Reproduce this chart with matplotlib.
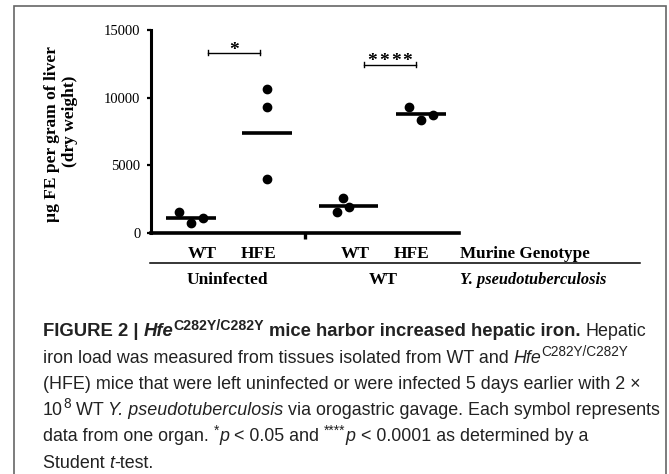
import matplotlib
matplotlib.use('Agg')
import matplotlib.pyplot as plt
from matplotlib.patches import Rectangle

# data (ug Fe per gram of liver)
groups = ['WT', 'HFE', 'WT', 'HFE']
group_pos = [1, 2, 3.07, 4.02]
wt_uninf = [1552, 717, 1086]
hfe_uninf = [10640, 9290, 4015]
wt_inf = [2610, 1552, 1946]
hfe_inf = [9290, 8380, 8750]
means = [1090, 7390, 1995, 8795]
jitter = [[-0.16, 0, 0.16], [0, 0, 0], [-0.07, -0.15, 0.01], [-0.16, 0, 0.16]]
yticks = [0, 5000, 10000, 15000]
infections = ['Uninfected', 'WT']
sig_labels = ['*', '****']

W, H = 669, 474
def fx(px):
  return px / W
def fy(py):
  return 1 - py / H

fig = plt.figure(figsize=(W / 100, H / 100), dpi=100)
fig.patches.append(Rectangle((fx(14), fy(478)), fx(666) - fx(14), fy(6) - fy(478),
                             transform=fig.transFigure, fill=False, ec='#666666', lw=1.2))

ax = fig.add_axes([fx(151), fy(233), (459 - 151) / W, (233 - 30) / H])
serif = 'Liberation Serif'

all_vals = [wt_uninf, hfe_uninf, wt_inf, hfe_inf]
halfw = [0.33, 0.33, 0.39, 0.33]
for i, vals in enumerate(all_vals):
  xs = [group_pos[i] + j for j in jitter[i]]
  ax.plot(xs, vals, 'o', color='black', ms=6, zorder=3)
  ax.plot([group_pos[i] - halfw[i], group_pos[i] + halfw[i]], [means[i], means[i]],
          color='black', lw=2.6, solid_capstyle='butt', zorder=3)

ax.set_xlim(0.47, 4.523)
ax.set_ylim(0, 15000)
ax.spines['top'].set_visible(False)
ax.spines['right'].set_visible(False)
ax.spines['left'].set_linewidth(2.2)
ax.spines['bottom'].set_linewidth(2.6)
ax.set_yticks(yticks)
ax.set_yticklabels([str(v) for v in yticks], fontfamily=serif, fontsize=10.5)
ax.tick_params(axis='y', direction='out', length=3, width=1.6, pad=4.5)
ax.set_xticks([2.5])
ax.set_xticklabels([''])
ax.tick_params(axis='x', direction='out', length=4, width=2.4)

# significance brackets
scale = 15000 / 203
brackets = [(1.216, 1.904, 13326, 1.56, 13175), (3.27, 3.957, 12417, 3.615, 12362)]
for (x0, x1, yb, xs, ys), lab in zip(brackets, sig_labels):
  ax.plot([x0, x1], [yb, yb], color='black', lw=1.0)
  for xe in (x0, x1):
    ax.plot([xe, xe], [yb - 2.5 * scale, yb + 2.5 * scale], color='black', lw=1.0)
  n = len(lab)
  for k in range(n):
    ax.text(xs + (k - (n - 1) / 2) * 0.154, ys, '*', fontfamily=serif, fontweight='bold',
            fontsize=14, ha='center', va='baseline')

# y label
fig.text(fx(51.7), fy(134), 'µg FE per gram of liver', rotation=90, ha='center', va='center',
         fontfamily=serif, fontweight='bold', fontsize=12.5)
fig.text(fx(70), fy(121), '(dry weight)', rotation=90, ha='center', va='center',
         fontfamily=serif, fontweight='bold', fontsize=12.5)

# genotype row
lab_px = [202, 259, 355, 412]
for g, px in zip(groups, lab_px):
  fig.text(fx(px), fy(258.3), g, ha='center', va='baseline', fontfamily=serif,
           fontweight='bold', fontsize=12.5)
fig.text(fx(460), fy(258.3), 'Murine Genotype', ha='left', va='baseline', fontfamily=serif,
         fontweight='bold', fontsize=12.3)
fig.add_artist(plt.Line2D([fx(150), fx(640)], [fy(263), fy(263)], color='black', lw=1.1))
for inf, px in zip(infections, [227, 383]):
  fig.text(fx(px), fy(284.3), inf, ha='center', va='baseline', fontfamily=serif,
           fontweight='bold', fontsize=12.5)
fig.text(fx(460), fy(284.3), 'Y. pseudotuberculosis', ha='left', va='baseline', fontfamily=serif,
         fontweight='bold', fontstyle='italic', fontsize=11.8)

# caption: each line is a list of (text, style, superscript?)
cap = [
  [('FIGURE 2 | ', 'b', 0), ('Hfe', 'bi', 0), ('C282Y/C282Y', 'b', 1),
   (' mice harbor increased hepatic iron.', 'b', 0), (' Hepatic', 'r', 0)],
  [('iron load was measured from tissues isolated from WT and ', 'r', 0), ('Hfe', 'i', 0),
   ('C282Y/C282Y', 'r', 1)],
  [('(HFE) mice that were left uninfected or were infected 5 days earlier with 2 ×', 'r', 0)],
  [('10', 'r', 0), ('8', 'r', 1), (' WT ', 'r', 0), ('Y. pseudotuberculosis', 'i', 0),
   (' via orogastric gavage. Each symbol represents', 'r', 0)],
  [('data from one organ. ', 'r', 0), ('*', 'r', 1), ('p', 'i', 0), (' < 0.05 and ', 'r', 0),
   ('****', 'r', 1), ('p', 'i', 0), (' < 0.0001 as determined by a', 'r', 0)],
  [('Student ', 'r', 0), ('t', 'i', 0), ('-test.', 'r', 0)],
]
styles = {'r': ('normal', 'normal', 1.0), 'b': ('bold', 'normal', 1.04),
          'i': ('normal', 'italic', 1.0), 'bi': ('bold', 'italic', 1.04)}
cap_size = 12.85
renderer = fig.canvas.get_renderer()

def advance(s, kw):
  # width including leading/trailing spaces
  t1 = fig.text(0, 0, '|' + s + '|', **kw)
  t2 = fig.text(0, 0, '||', **kw)
  w = t1.get_window_extent(renderer).width - t2.get_window_extent(renderer).width
  t1.remove()
  t2.remove()
  return w

for i, pieces in enumerate(cap):
  x = 43
  base = 336.5 + 26.2 * i
  for s, st, sup in pieces:
    wt, sty, k = styles[st]
    kw = dict(fontfamily='Liberation Sans', fontsize=cap_size * k * (0.76 if sup else 1),
              fontweight=wt, fontstyle=sty, color='#222222')
    body = s.lstrip()
    x0 = x + (advance(s[:len(s) - len(body)], kw) if body != s else 0)
    fig.text(fx(x0), fy(base - (6.8 if sup else 0)), body, ha='left', va='baseline', **kw)
    x += advance(s, kw)

fig.savefig('out.png', dpi=100)
